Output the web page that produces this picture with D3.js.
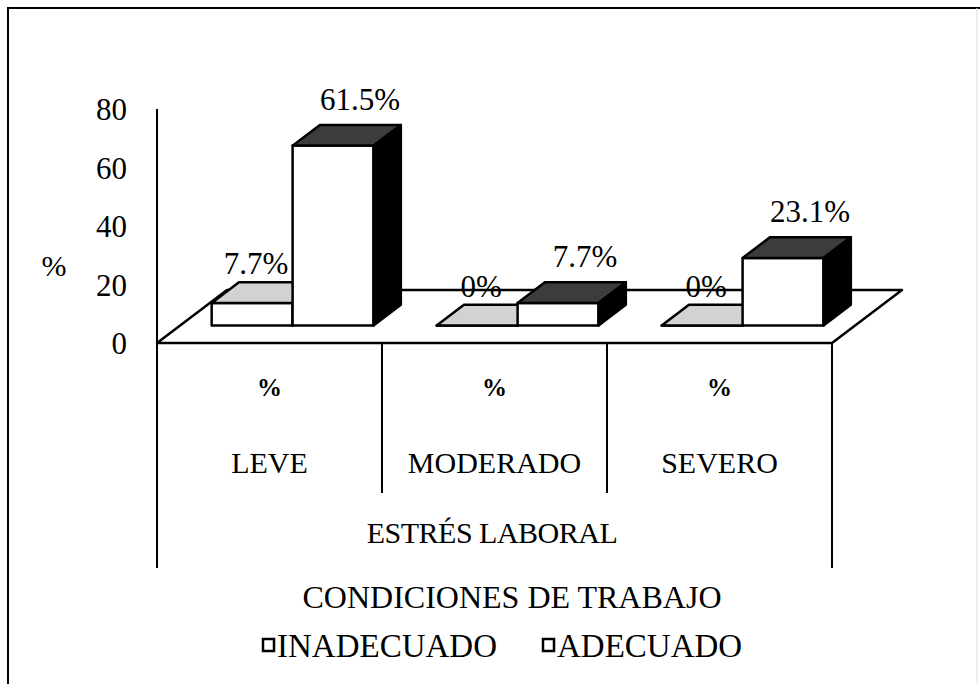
<!DOCTYPE html>
<html>
<head>
<meta charset="utf-8">
<script src="https://cdn.jsdelivr.net/npm/d3@7"></script>
<style>
  body { margin: 0; background: #fff; }
  svg text { font-family: "Liberation Serif", "Tinos", "Times New Roman", "DejaVu Serif", serif; fill: #000; }
</style>
</head>
<body>
<script>
// data
let categories = ["LEVE", "MODERADO", "SEVERO"]
let series = ["INADECUADO", "ADECUADO"]
let inadecuado = [7.7, 0, 0]
let adecuado = [61.5, 7.7, 23.1]
let yTicks = [0, 20, 40, 60, 80]

// size & 3d depth
let W = 980, H = 684
let depth = {dx: 70, dy: -53}   // floor depth vector
let f0 = 0.33, f1 = 0.72         // bar front / back inside the floor depth

let svg = d3.select("body").append("svg")
    .attr("width", W)
    .attr("height", H)

// scales
let x = d3.scaleBand().domain(categories).range([157, 832])
let xs = d3.scaleBand().domain(series).range([0, x.bandwidth()]).paddingOuter(0.39)
let y = d3.scaleLinear().domain([0, 80]).range([343, 109])

function P(px, v, f) {
  return [px + f * depth.dx, y(v) + f * depth.dy]
}

// outer frame
svg.append("path")
  .attr("d", "M8," + H + " L8,8 L" + W + ",8")
  .attr("fill", "none").attr("stroke", "#000").attr("stroke-width", 2)
svg.append("line")
  .attr("x1", 977).attr("x2", 977).attr("y1", 8).attr("y2", H)
  .attr("stroke", "#ddd").attr("stroke-width", 1)

// floor
let x0 = x.range()[0], x1 = x.range()[1]
let floor = [P(x0, 0, 0), P(x0, 0, 1), P(x1, 0, 1), P(x1, 0, 0)]
svg.append("path")
  .attr("d", "M" + floor.join("L") + "Z")
  .attr("fill", "#fff").attr("stroke", "#000").attr("stroke-width", 2.5)
  .attr("stroke-linejoin", "round")

// bars
let rows = []
categories.forEach((c, i) => {
  rows.push({cat: c, s: "INADECUADO", v: inadecuado[i], i: i})
  rows.push({cat: c, s: "ADECUADO", v: adecuado[i], i: i})
})
let topFill = {INADECUADO: "#d2d2d2", ADECUADO: "#3c3c3c"}

let bars = svg.selectAll(".bar")
  .data(rows)
  .enter()
  .append("g")
  .attr("class", "bar")

function poly(pts) { return "M" + pts.join("L") + "Z" }

bars.each(function(d) {
  let g = d3.select(this)
  let a = x(d.cat) + xs(d.s)
  let b = a + xs.bandwidth()
  // front
  g.append("path")
    .attr("d", poly([P(a, 0, f0), P(a, d.v, f0), P(b, d.v, f0), P(b, 0, f0)]))
    .attr("fill", "#fff")
  // top
  g.append("path")
    .attr("d", poly([P(a, d.v, f0), P(a, d.v, f1), P(b, d.v, f1), P(b, d.v, f0)]))
    .attr("fill", topFill[d.s])
  // right side
  g.append("path")
    .attr("d", poly([P(b, 0, f0), P(b, d.v, f0), P(b, d.v, f1), P(b, 0, f1)]))
    .attr("fill", "#000")
  g.selectAll("path")
    .attr("stroke", "#000").attr("stroke-width", 2.5).attr("stroke-linejoin", "round")
})

// data labels
let labelShift = {INADECUADO: 4, ADECUADO: 27}
let labelRise = {INADECUADO: 19, ADECUADO: 26}
svg.selectAll(".lbl")
  .data(rows)
  .enter()
  .append("text")
  .attr("class", "lbl")
  .attr("x", d => P(x(d.cat) + xs(d.s) + xs.bandwidth() / 2, d.v, f0)[0] + labelShift[d.s])
  .attr("y", d => P(0, d.v, f1)[1] - labelRise[d.s])
  .attr("dy", "0.35em")
  .attr("text-anchor", "middle")
  .style("font-size", "31px")
  .text(d => d.v + "%")

// y axis
svg.append("line")
  .attr("x1", x0).attr("x2", x0)
  .attr("y1", y(80)).attr("y2", 568)
  .attr("stroke", "#000").attr("stroke-width", 2)

let yAxis = svg.append("g")
  .attr("transform", "translate(" + x0 + ",0)")
  .call(d3.axisLeft(y).tickValues(yTicks).tickSize(0).tickPadding(30))
yAxis.attr("font-family", null).attr("font-size", null)
yAxis.select(".domain").remove()
yAxis.selectAll("text")
  .style("font-size", "31px")
  .attr("dy", "0.35em")

svg.append("text")
  .attr("x", 54).attr("y", 265).attr("dy", "0.35em")
  .attr("text-anchor", "middle")
  .style("font-size", "30px")
  .text("%")

// category table
categories.forEach((c, i) => {
  let left = x(c)
  if (i > 0) {
    svg.append("line")
      .attr("x1", left).attr("x2", left).attr("y1", 343).attr("y2", 493)
      .attr("stroke", "#000").attr("stroke-width", 2)
  }
  let cx = left + x.bandwidth() / 2
  svg.append("text")
    .attr("x", cx).attr("y", 396)
    .attr("text-anchor", "middle")
    .style("font-size", "25px").style("font-weight", "bold")
    .text("%")
  svg.append("text")
    .attr("x", cx).attr("y", 473)
    .attr("text-anchor", "middle")
    .style("font-size", "30px")
    .text(c)
})
svg.append("line")
  .attr("x1", x1).attr("x2", x1).attr("y1", 343).attr("y2", 568)
  .attr("stroke", "#000").attr("stroke-width", 2)

svg.append("text")
  .attr("x", 492).attr("y", 543)
  .attr("text-anchor", "middle")
  .style("font-size", "30px")
  .style("letter-spacing", "-0.5px")
  .text("ESTRÉS LABORAL")

// title + legend
svg.append("text")
  .attr("x", 512).attr("y", 608)
  .attr("text-anchor", "middle")
  .style("font-size", "32px")
  .text("CONDICIONES DE TRABAJO")

let legendX = [262, 542]
let legend = svg.selectAll(".leg")
  .data(series)
  .enter()
  .append("g")
  .attr("class", "leg")
  .attr("transform", (d, i) => "translate(" + legendX[i] + ",639)")
legend.append("rect")
  .attr("x", 1).attr("width", 11).attr("height", 12)
  .attr("fill", "#fff").attr("stroke", "#000").attr("stroke-width", 2.5)
legend.append("text")
  .attr("x", 15).attr("y", 18)
  .style("font-size", "33px")
  .text(d => d)
</script>
</body>
</html>
